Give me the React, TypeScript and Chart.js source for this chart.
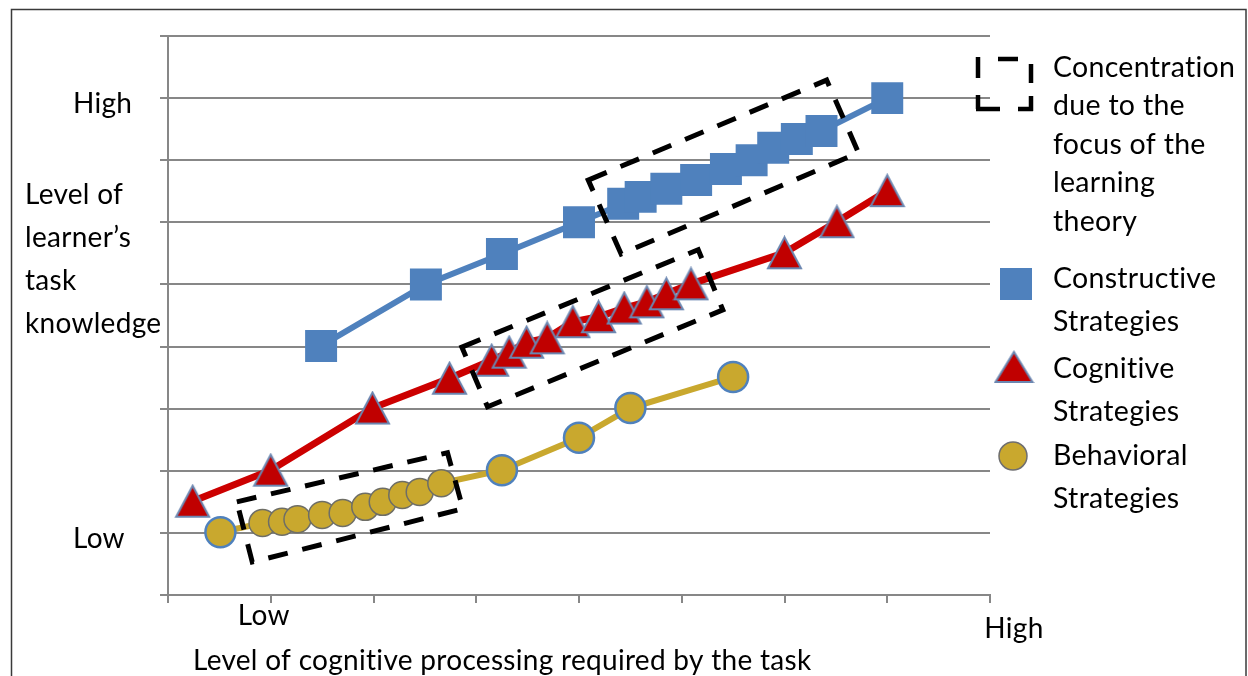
import React, { useEffect, useRef } from 'react';
import { Chart, registerables } from 'chart.js';

Chart.register(...registerables);

// ---------- Data ----------
const constructiveX = [1.49, 2.51, 3.25, 4.0, 4.43, 4.6, 4.85, 5.14, 5.43, 5.68, 5.89, 6.12, 6.36, 7.0];
const constructiveY = [4.01, 5.0, 5.49, 6.0, 6.3, 6.41, 6.54, 6.68, 6.86, 7.0, 7.2, 7.34, 7.47, 8.0];

const cognitiveX = [0.24, 1.0, 1.99, 2.74, 3.15, 3.32, 3.49, 3.69, 3.94, 4.19, 4.44, 4.66, 4.85, 5.09, 6.0, 6.51, 7.0];
const cognitiveY = [1.51, 2.01, 3.01, 3.49, 3.78, 3.91, 4.07, 4.14, 4.4, 4.48, 4.62, 4.72, 4.85, 5.01, 5.51, 6.01, 6.51];

const behavioralX = [0.51, 0.92, 1.11, 1.26, 1.5, 1.7, 1.92, 2.09, 2.28, 2.45, 2.66, 3.25, 4.0, 4.5, 5.5];
const behavioralY = [1.01, 1.16, 1.18, 1.22, 1.29, 1.32, 1.42, 1.5, 1.61, 1.66, 1.8, 2.01, 2.53, 3.01, 3.51];
// points of the behavioral series that lie inside the concentration box
const behavioralInCluster = [false, true, true, true, true, true, true, true, true, true, true, false, false, false, false];

// concentration boxes (corners in data units)
const boxConstructive = [[4.09, 6.68], [6.41, 8.29], [6.72, 7.12], [4.41, 5.49]];
const boxCognitive = [[2.86, 3.99], [5.16, 5.56], [5.4, 4.59], [3.11, 3.03]];
const boxBehavioral = [[0.67, 1.5], [2.72, 2.29], [2.87, 1.39], [0.82, 0.53]];

const xTickValues = [1, 8];
const xTickLabels = ['Low', 'High'];
const yTickValues = [8, 1];
const yTickLabels = ['High', 'Low'];

const yTitleLines = ['Level of', 'learner\u2019s', 'task', 'knowledge'];
const xTitle = 'Level of cognitive processing required by the task';
const boxLegendLines = ['Concentration', 'due to the', 'focus of the', 'learning', 'theory'];
const seriesNames = [['Constructive', 'Strategies'], ['Cognitive', 'Strategies'], ['Behavioral', 'Strategies']];

// ---------- Styles ----------
const BLUE = '#4F81BD';
const RED = '#CC0000';
const GOLD = '#C9A82E';
const GRID = '#878787';
const FONT = 'Lato, "Open Sans", sans-serif';

function makeTriangle(w: number, h: number, fill: string, stroke: string, lw: number) {
  const c = document.createElement('canvas');
  c.width = Math.ceil(w + lw * 2);
  c.height = Math.ceil(h + lw * 2);
  const g = c.getContext('2d')!;
  g.beginPath();
  g.moveTo(c.width / 2, lw);
  g.lineTo(c.width - lw, lw + h);
  g.lineTo(lw, lw + h);
  g.closePath();
  g.fillStyle = fill;
  g.fill();
  g.lineWidth = lw;
  g.strokeStyle = stroke;
  g.lineJoin = 'miter';
  g.stroke();
  return c;
}

export default function App() {
  const ref = useRef<HTMLCanvasElement | null>(null);

  useEffect(() => {
    document.body.style.margin = '0';
    const canvas = ref.current;
    if (!canvas) return;

    const tri = makeTriangle(33, 31, '#C00000', '#6B86B0', 2);
    const triLegend = makeTriangle(37, 30, '#C00000', '#6B86B0', 2);

    const overlay = {
      id: 'overlay',
      beforeDraw(chart: any) {
        const ctx = chart.ctx;
        ctx.save();
        ctx.fillStyle = '#ffffff';
        ctx.fillRect(0, 0, chart.width, chart.height);
        ctx.strokeStyle = '#3a3a3a';
        ctx.lineWidth = 1.5;
        ctx.strokeRect(11.5, 9.5, 1234.5, 720);
        ctx.restore();
      },
      afterDatasetsDraw(chart: any) {
        const ctx = chart.ctx;
        const xs = chart.scales.x;
        const ys = chart.scales.y;
        ctx.save();
        ctx.strokeStyle = '#000';
        ctx.lineWidth = 5;
        ctx.setLineDash([20, 15]);
        ctx.lineCap = 'butt';
        [boxConstructive, boxCognitive, boxBehavioral].forEach((box) => {
          ctx.beginPath();
          box.forEach(([vx, vy], i) => {
            const px = xs.getPixelForValue(vx);
            const py = ys.getPixelForValue(vy);
            if (i === 0) ctx.moveTo(px, py);
            else ctx.lineTo(px, py);
          });
          ctx.closePath();
          ctx.stroke();
        });
        ctx.restore();
      },
      afterDraw(chart: any) {
        const ctx = chart.ctx;
        const xs = chart.scales.x;
        const ys = chart.scales.y;
        ctx.save();
        ctx.fillStyle = '#000';
        ctx.textBaseline = 'alphabetic';
        try { (ctx as any).letterSpacing = '0.3px'; } catch (e) { /* ignore */ }
        ctx.font = `28px ${FONT}`;

        // y tick labels
        ctx.textAlign = 'left';
        yTickValues.forEach((v, i) => {
          ctx.fillText(yTickLabels[i], 73, ys.getPixelForValue(v) + 15);
        });
        // x tick labels
        ctx.textAlign = 'center';
        ctx.fillText(xTickLabels[0], xs.getPixelForValue(xTickValues[0]) - 7, 625);
        ctx.fillText(xTickLabels[1], xs.getPixelForValue(xTickValues[1]) + 24, 638);

        // y title
        ctx.textAlign = 'left';
        yTitleLines.forEach((t, i) => ctx.fillText(t, 25, 204 + i * 43));

        // x title
        ctx.fillText(xTitle, 193, 670);

        // legend: concentration box icon
        ctx.strokeStyle = '#000';
        ctx.lineWidth = 4.5;
        const segs = [
          [978, 57, 978, 78], [978, 95, 978, 109], [976, 109, 1000, 109], [1018, 109, 1033, 109],
          [1031, 111, 1031, 96], [1031, 83, 1031, 64], [998, 59, 1018, 59],
        ];
        ctx.beginPath();
        segs.forEach(([a, b, c, d]) => { ctx.moveTo(a, b); ctx.lineTo(c, d); });
        ctx.stroke();

        ctx.font = `28.5px ${FONT}`;
        boxLegendLines.forEach((t, i) => ctx.fillText(t, 1053, 77 + i * 38.4));

        // legend: series
        ctx.fillStyle = BLUE;
        ctx.fillRect(1000, 268, 32, 32);
        ctx.drawImage(triLegend, 1014 - triLegend.width / 2, 367 - triLegend.height / 2);
        ctx.beginPath();
        ctx.arc(1013, 456, 14, 0, Math.PI * 2);
        ctx.fillStyle = GOLD;
        ctx.fill();
        ctx.lineWidth = 1.5;
        ctx.strokeStyle = '#6E6E70';
        ctx.stroke();

        ctx.fillStyle = '#000';
        const baseY = [288, 378, 465];
        seriesNames.forEach((lines, i) => {
          lines.forEach((t, j) => ctx.fillText(t, 1053, baseY[i] + j * 43));
        });
        ctx.restore();
      },
    };

    const toPts = (xs: number[], ys: number[]) => xs.map((x, i) => ({ x, y: ys[i] }));

    const chart = new Chart(canvas, {
      type: 'line',
      data: {
        datasets: [
          {
            label: 'Constructive Strategies',
            data: toPts(constructiveX, constructiveY),
            borderColor: BLUE,
            backgroundColor: BLUE,
            borderWidth: 6,
            pointStyle: 'rect',
            pointRadius: 22.6,
            pointBorderWidth: 0,
            pointBackgroundColor: BLUE,
            tension: 0,
            clip: false,
          },
          {
            label: 'Cognitive Strategies',
            data: toPts(cognitiveX, cognitiveY),
            borderColor: RED,
            backgroundColor: '#C00000',
            borderWidth: 7,
            pointStyle: tri as any,
            pointRadius: 17,
            tension: 0,
            clip: false,
          },
          {
            label: 'Behavioral Strategies',
            data: toPts(behavioralX, behavioralY),
            borderColor: GOLD,
            backgroundColor: GOLD,
            borderWidth: 6,
            pointStyle: 'circle',
            pointRadius: behavioralInCluster.map((c) => (c ? 13.5 : 15)),
            pointBorderWidth: behavioralInCluster.map((c) => (c ? 1.5 : 2.5)),
            pointBorderColor: behavioralInCluster.map((c) => (c ? '#6E6E66' : BLUE)),
            pointBackgroundColor: GOLD,
            tension: 0,
            clip: false,
          },
        ],
      },
      options: {
        animation: false,
        responsive: true,
        maintainAspectRatio: false,
        layout: { padding: { top: 36, right: 258, left: 0, bottom: 0 } },
        plugins: { legend: { display: false }, tooltip: { enabled: false } },
        events: [],
        scales: {
          x: {
            type: 'linear',
            min: 0,
            max: 8,
            ticks: { stepSize: 1, display: false },
            grid: { drawOnChartArea: false, drawTicks: true, tickLength: 8, color: GRID, lineWidth: 2 },
            border: { display: true, color: GRID, width: 2 },
            afterFit: (s: any) => { s.height = 81; },
          },
          y: {
            type: 'linear',
            min: 0,
            max: 9,
            ticks: { stepSize: 1, display: false },
            grid: { drawTicks: true, tickLength: 8, color: GRID, lineWidth: 2 },
            border: { display: true, color: GRID, width: 2 },
            afterFit: (s: any) => { s.width = 168; },
          },
        },
      } as any,
      plugins: [overlay],
    });

    return () => chart.destroy();
  }, []);

  return (
    <div style={{ width: 1248, height: 676, position: 'relative' }}>
      <canvas ref={ref} />
    </div>
  );
}
